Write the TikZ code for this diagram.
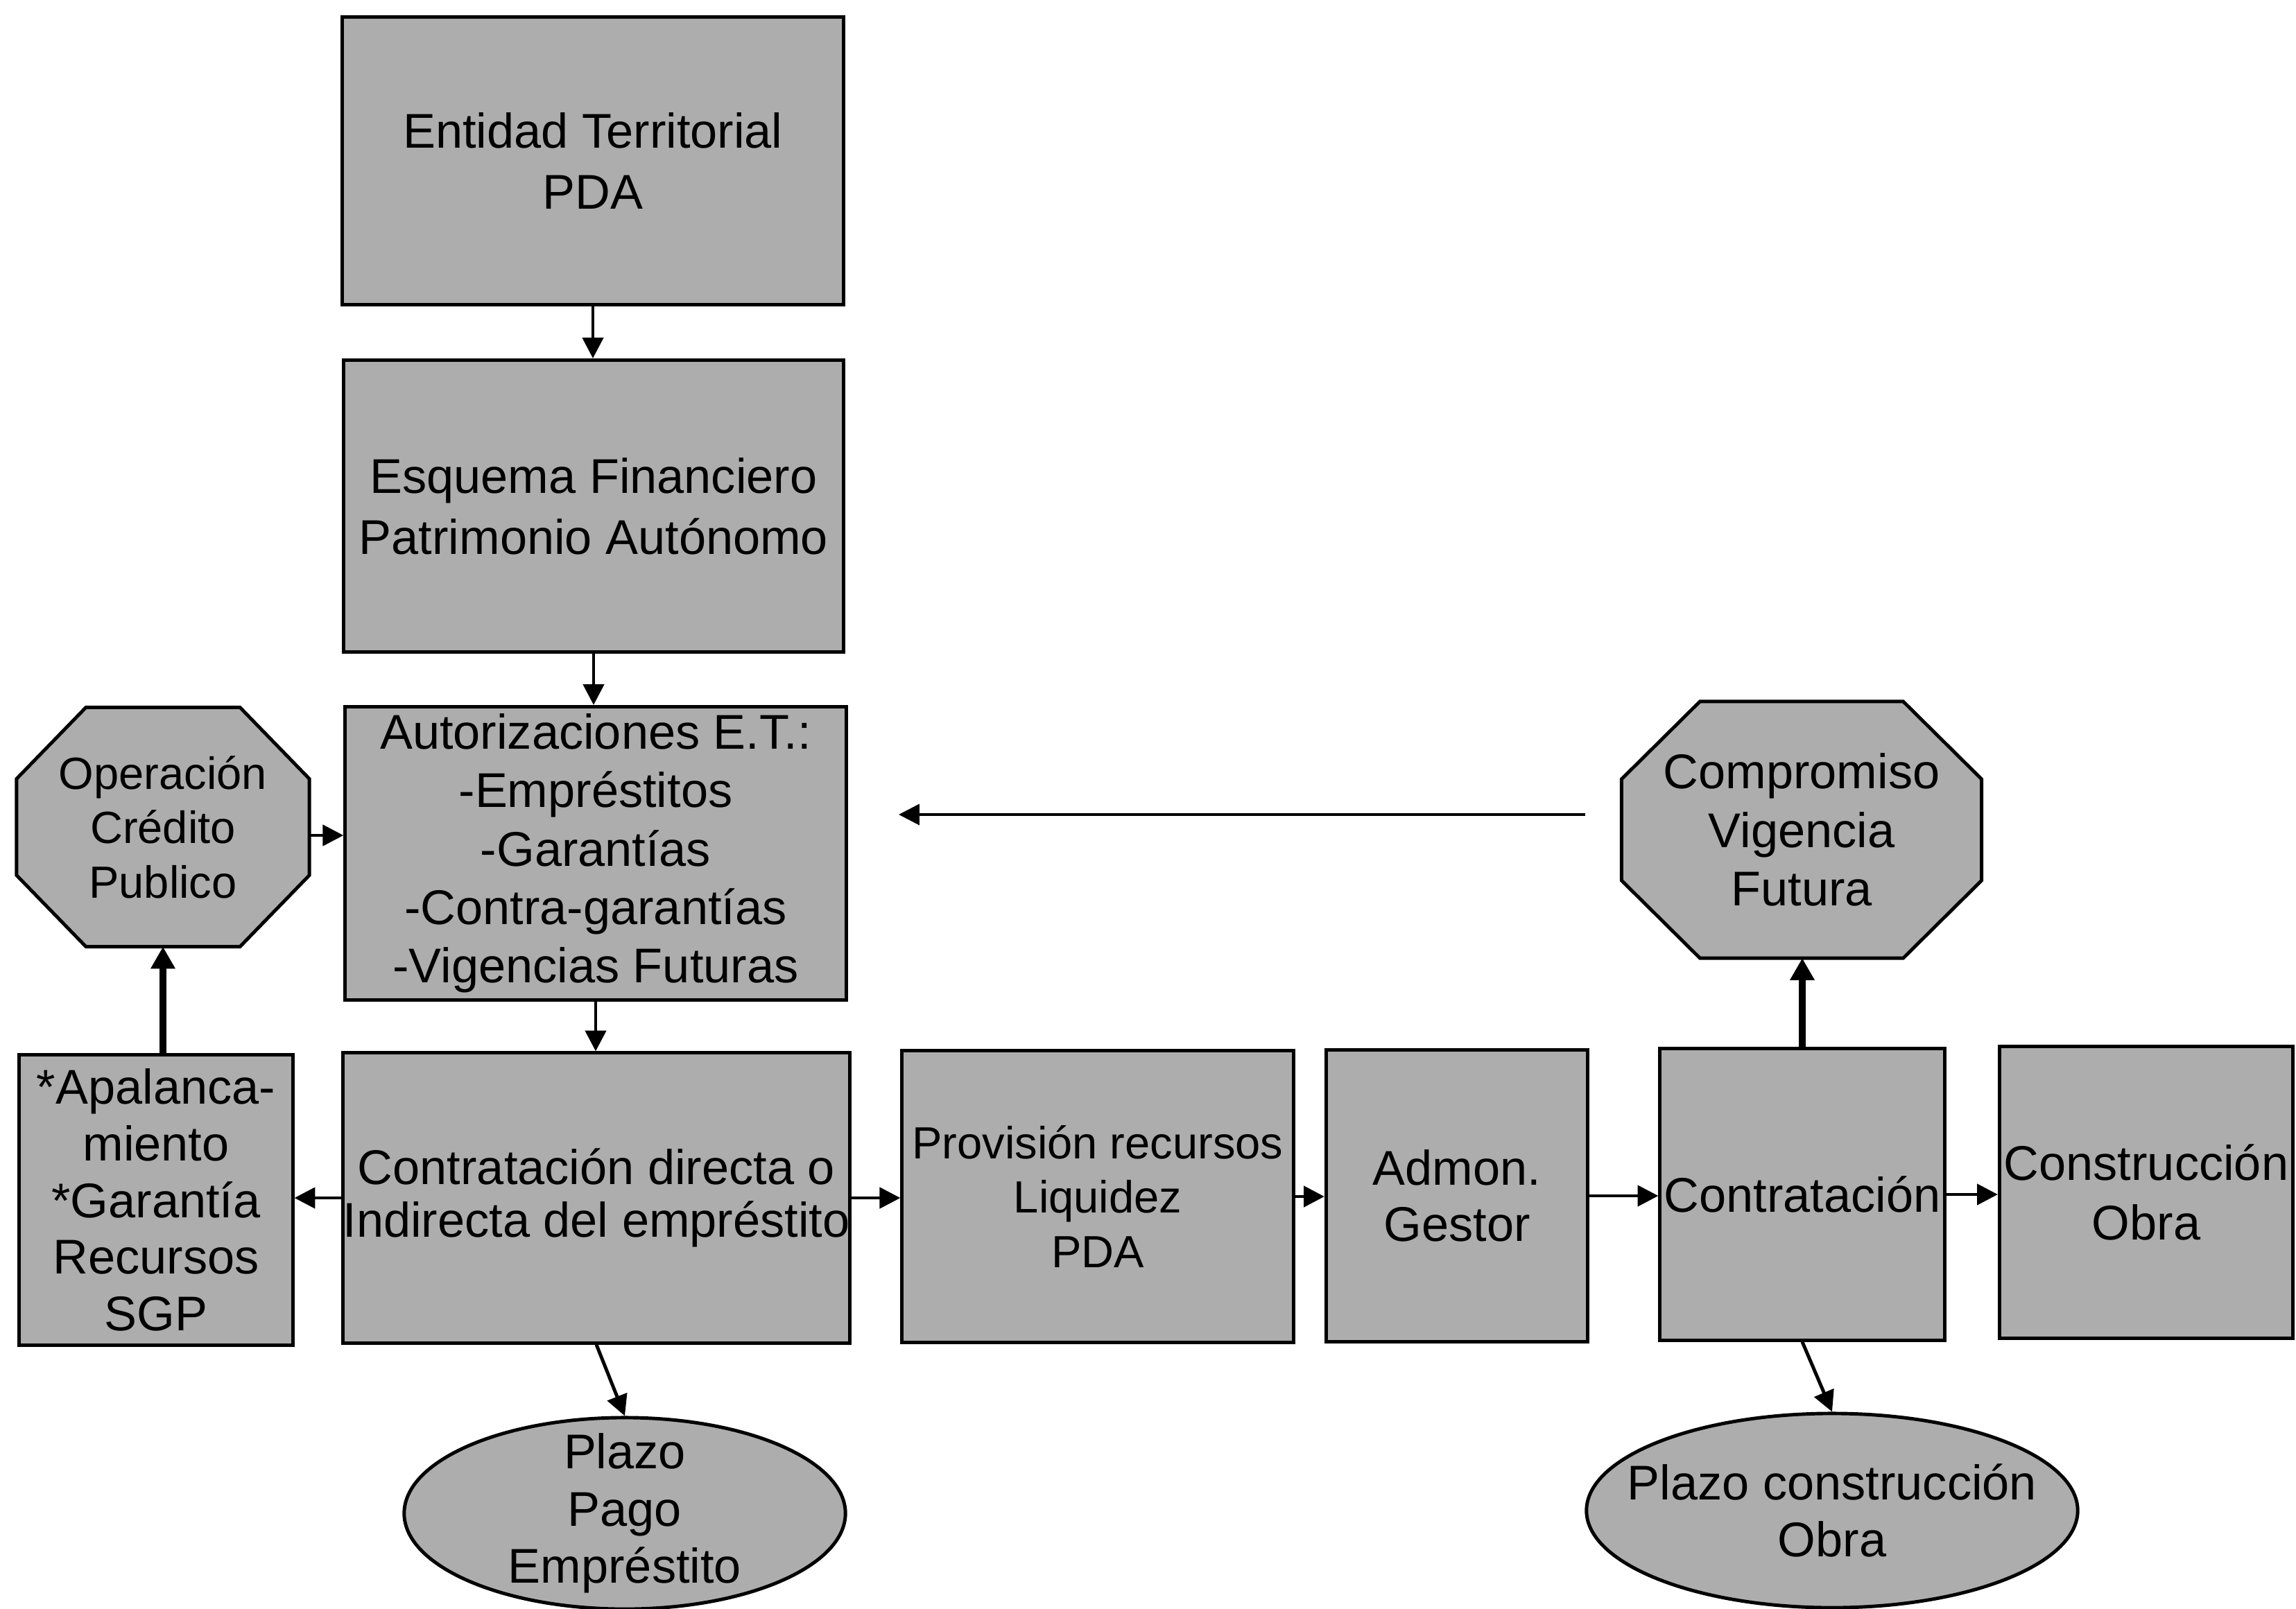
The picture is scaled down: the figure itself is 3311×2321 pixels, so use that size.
\documentclass[tikz,border=0pt]{standalone}
\usepackage{fontspec}
\setmainfont{Liberation Sans}
\usetikzlibrary{arrows.meta,shapes.geometric,backgrounds}
\definecolor{boxgray}{gray}{0.68}
\begin{document}
\begin{tikzpicture}[x=0.01cm,y=-0.01cm,
  every node/.style={font=\fontsize{20}{23.5}\selectfont, align=center, inner sep=0pt},
  box/.style={draw, line width=1.4pt, fill=boxgray, rectangle},
  octnode/.style={rectangle, outer sep=0pt},
  octo/.style={draw, line width=1.4pt, fill=boxgray, line join=miter},
  oval/.style={draw, line width=1.4pt, fill=boxgray, ellipse, inner sep=-0.6cm},
  arr/.style={-{Triangle[length=8.5pt,width=8.5pt]}, line width=1.4pt},
  thickarr/.style={-{Triangle[length=9pt,width=9.5pt]}, line width=2.6pt},
]
\useasboundingbox (0,0) rectangle (3311,2321);

% boxes
\node[box, minimum width=7.22cm, minimum height=4.14cm, font=\fontsize{20}{25}\selectfont] (ent) at (855,232) {Entidad Territorial\\PDA};
\node[box, minimum width=7.20cm, minimum height=4.21cm, font=\fontsize{20}{25}\selectfont] (esq) at (856,730) {Esquema Financiero\\Patrimonio Autónomo};
\node[box, minimum width=7.22cm, minimum height=4.23cm, font=\fontsize{20}{24}\selectfont] (aut) at (859,1231) {Autorizaciones E.T.:\\-Empréstitos\\-Garantías\\-Contra-garantías\\-Vigencias Futuras};
\node[box, minimum width=7.20cm, minimum height=4.18cm, font=\fontsize{20}{21.5}\selectfont] (cdir) at (860,1728) {Contratación directa o\\Indirecta del empréstito};
\node[box, minimum width=3.94cm, minimum height=4.18cm, font=\fontsize{20}{23.2}\selectfont] (apal) at (225,1731) {*Apalanca-\\miento\\*Garantía\\Recursos\\SGP};
\node[box, minimum width=5.64cm, minimum height=4.21cm, font=\fontsize{18.5}{22.3}\selectfont] (prov) at (1583,1726) {Provisión recursos\\Liquidez\\PDA};
\node[box, minimum width=3.77cm, minimum height=4.20cm, font=\fontsize{20}{23}\selectfont] (adm) at (2101,1725) {Admon.\\Gestor};
\node[box, minimum width=4.10cm, minimum height=4.20cm] (contr) at (2599,1723) {Contratación};
\node[box, minimum width=4.23cm, minimum height=4.21cm, font=\fontsize{20}{24.6}\selectfont] (cons) at (3095,1720) {Construcción\\Obra};

% octagons (outline drawn on background)
\node[octnode, minimum width=4.22cm, minimum height=3.45cm, font=\fontsize{18.5}{22.3}\selectfont] (oper) at (235,1193) {Operación\\Crédito\\Publico};
\node[octnode, minimum width=5.19cm, minimum height=3.70cm, font=\fontsize{20}{24}\selectfont] (comp) at (2598,1197) {Compromiso\\Vigencia\\Futura};
\begin{scope}[on background layer]
\draw[octo] ([xshift=1cm]oper.north west) -- ([xshift=-1cm]oper.north east) -- ([yshift=-1.03cm]oper.north east) -- ([yshift=1.03cm]oper.south east) -- ([xshift=-1cm]oper.south east) -- ([xshift=1cm]oper.south west) -- ([yshift=1.03cm]oper.south west) -- ([yshift=-1.03cm]oper.north west) -- cycle;
\draw[octo] ([xshift=1.13cm]comp.north west) -- ([xshift=-1.13cm]comp.north east) -- ([yshift=-1.12cm]comp.north east) -- ([yshift=1.12cm]comp.south east) -- ([xshift=-1.13cm]comp.south east) -- ([xshift=1.13cm]comp.south west) -- ([yshift=1.12cm]comp.south west) -- ([yshift=-1.12cm]comp.north west) -- cycle;
\end{scope}

% ellipses
\node[oval, minimum width=6.36cm, minimum height=2.76cm] (plz1) at (901,2183) {Plazo\\Pago\\Empréstito};
\node[oval, minimum width=7.08cm, minimum height=2.80cm] (plz2) at (2642,2179) {Plazo construcción\\Obra};

% free arrow
\coordinate (fa) at (2286,1175);
\coordinate (fb) at (1296,1175);

% connectors
\draw[arr] (ent.south) -- (ent.south |- esq.north);
\draw[arr] (esq.south) -- (esq.south |- aut.north);
\draw[arr] (aut.south) -- (aut.south |- cdir.north);
\draw[arr] (cdir.west) -- (cdir.west -| apal.east);
\draw[thickarr] (oper.south |- apal.north) -- (oper.south);
\draw[arr] ([yshift=-0.12cm]oper.east) -- ([yshift=-0.12cm]oper.east -| aut.west);
\draw[arr] (cdir.east) -- (cdir.east -| prov.west);
\draw[arr] (prov.east) -- (prov.east -| adm.west);
\draw[arr] (adm.east) -- (adm.east -| contr.west);
\draw[arr] (contr.east) -- (contr.east -| cons.west);
\draw[thickarr] (contr.north) -- (contr.north |- comp.south);
\draw[arr] (cdir.south) -- (plz1.north);
\draw[arr] (contr.south) -- (plz2.north);
\draw[arr, line width=1.1pt] (fa) -- (fb);
\end{tikzpicture}
\end{document}
